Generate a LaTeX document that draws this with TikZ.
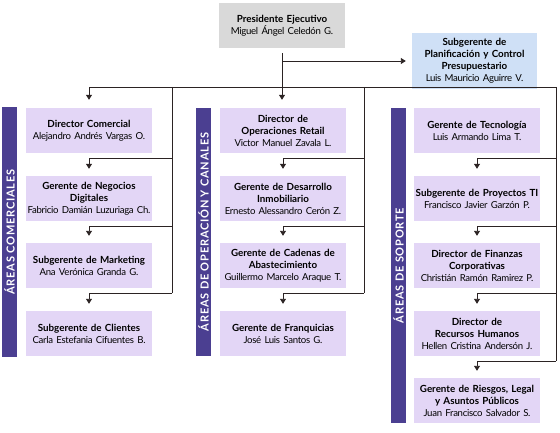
\documentclass[tikz,border=0pt]{standalone}
\usepackage{fontspec}
\setmainfont{Lato}
\newfontfamily\bandfont[LetterSpace=7]{Lato}
\newfontfamily\namefont[LetterSpace=-3]{Lato}
\usepackage{tikz}
\usetikzlibrary{arrows.meta,calc}
\definecolor{lav}{HTML}{E3D6F6}
\definecolor{deep}{HTML}{4B3F91}
\definecolor{pale}{HTML}{D9D9D9}
\definecolor{sky}{HTML}{CFE0F6}
\definecolor{ink}{HTML}{2B2323}
\tikzset{
  cargo/.style={fill=lav,text width=124pt,align=center,minimum height=45pt,inner sep=1pt,
    font=\fontsize{9.8}{12}\selectfont,text=black},
  band/.style={fill=deep,rotate=90,minimum height=15pt,inner sep=0pt,text=white,
    font=\bandfont\bfseries\fontsize{11}{12}\selectfont},
  ln/.style={line width=0.9pt,draw=ink},
  arr/.style={ln,-{Triangle[width=6pt,length=5pt]}}
}
\newcommand{\cargo}[2]{\textbf{#1}\\{\namefont\fontsize{9.6}{12}\selectfont #2}}

\begin{document}
\begin{tikzpicture}[x=1pt,y=-1pt]
  \useasboundingbox (0,0) rectangle (560,433);
  \node[cargo,fill=pale,text width=124pt] (pres) at (282,25.5) {\cargo{Presidente Ejecutivo}{Miguel Ángel Celedón G.}};
  \node[cargo,fill=sky,text width=123pt,minimum height=56pt] (plan) at (474.5,61) {\cargo{Subgerente de\\Planificación y Control\\Presupuestario}{Luis Mauricio Aguirre V.}};

  \node[band,minimum width=250pt] (ba) at (9.5,232) {ÁREAS COMERCIALES};
  \node[band,minimum width=248pt] (bb) at (203.5,232) {ÁREAS DE OPERACIÓN Y CANALES};
  \node[band,minimum width=315pt] (bs) at (398.5,265.5) {ÁREAS DE SOPORTE};

  \node[cargo] (a1) at (89,130.5) {\cargo{Director Comercial}{Alejandro Andrés Vargas O.}};
  \node[cargo] (a2) at (89,198.5) {\cargo{Gerente de Negocios\\Digitales}{Fabricio Damián Luzuriaga Ch.}};
  \node[cargo] (a3) at (89,265.5) {\cargo{Subgerente de Marketing}{Ana Verónica Granda G.}};
  \node[cargo] (a4) at (89,333.5) {\cargo{Subgerente de Clientes}{Carla Estefania Cifuentes B.}};

  \node[cargo] (b1) at (283,130.5) {\cargo{Director de\\Operaciones Retail}{Victor Manuel Zavala L.}};
  \node[cargo] (b2) at (283,198.5) {\cargo{Gerente de Desarrollo\\Inmobiliario}{Ernesto Alessandro Cerón Z.}};
  \node[cargo] (b3) at (283,265.5) {\cargo{Gerente de Cadenas de\\Abastecimiento}{Guillermo Marcelo Araque T.}};
  \node[cargo] (b4) at (283,333.5) {\cargo{Gerente de Franquicias}{José Luis Santos G.}};

  \node[cargo] (s1) at (477,130.5) {\cargo{Gerente de Tecnología}{Luis Armando Lima T.}};
  \node[cargo] (s2) at (477,198.5) {\cargo{Subgerente de Proyectos TI}{Francisco Javier Garzón P.}};
  \node[cargo] (s3) at (477,265.5) {\cargo{Director de Finanzas\\Corporativas}{Christián Ramón Ramirez P.}};
  \node[cargo] (s4) at (477,333.5) {\cargo{Director de\\Recursos Humanos}{Hellen Cristina Andersón J.}};
  \node[cargo] (s5) at (477,400.5) {\cargo{Gerente de Riesgos, Legal\\y Asuntos Públicos}{Juan Francisco Salvador S.}};

  \coordinate (ta) at (172,87);
  \coordinate (tb) at (364,87);
  \coordinate (ts) at (556,87);

  \draw[arr,shorten <=5pt,shorten >=8pt] (pres.south) -- (pres.south |- b1.north);
  \draw[arr,shorten >=6pt] (pres.south |- plan.west) -- (plan.west);
  \draw[ln] (a1.north |- ta) -- (ts);
  \draw[arr,shorten >=8pt] (a1.north |- ta) -- (a1.north);

  \foreach \c/\n in {a/3,b/3,s/4} {
    \foreach \i in {1,...,\n} {
      \draw[arr,shorten >=7pt] ($(\c\i.south -| t\c)+(0,5)$) -| (\c\the\numexpr\i+1\relax.north);
    }
    \draw[ln] (t\c) -- ($(\c\n.south -| t\c)+(0,5)$);
  }
\end{tikzpicture}
\end{document}
